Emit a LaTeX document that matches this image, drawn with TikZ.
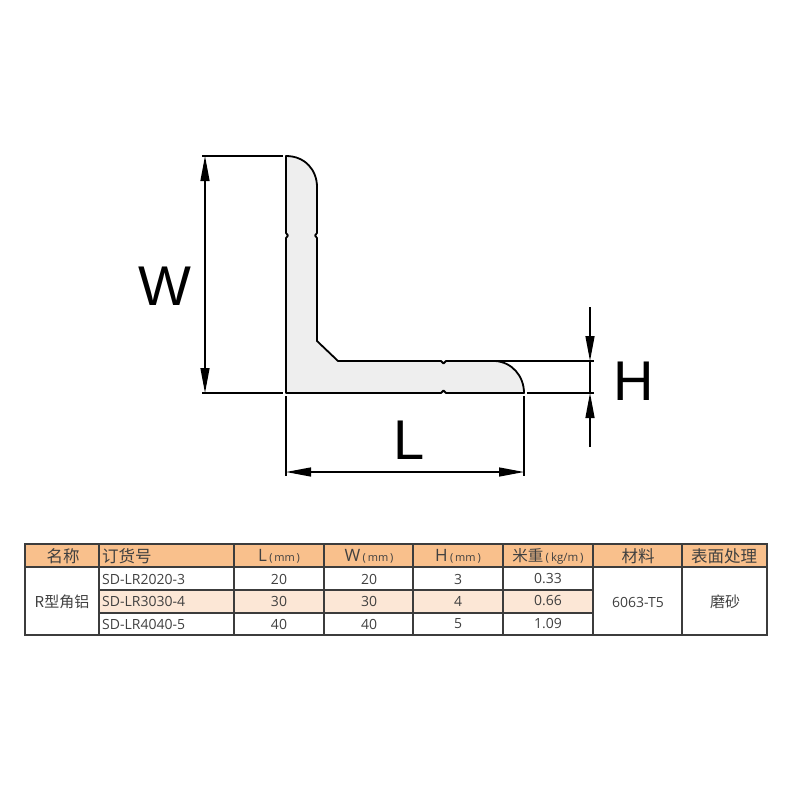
\documentclass[tikz,border=0pt]{standalone}
\usepackage{fontspec}
\setmainfont{Open Sans}
\newfontfamily\cjk{Noto Sans CJK SC}
\newfontfamily\bigsans{Liberation Sans}
\usetikzlibrary{arrows.meta}
\definecolor{perfil}{HTML}{EEEEEE}
\definecolor{naranja}{HTML}{F9C08C}
\definecolor{crema}{HTML}{FCE7D6}
\definecolor{linea}{HTML}{3C3C3C}
\definecolor{texto}{HTML}{404040}
\tikzset{
  cota/.style={black,line width=1.3pt},
  flecha/.style={-{Triangle[length=25pt,width=9pt]}},
  doble/.style={{Triangle[length=25pt,width=9pt]}-{Triangle[length=25pt,width=9pt]}},
  letra/.style={font=\bigsans\fontsize{56}{56}\selectfont,text=black,inner sep=0pt},
  celda/.style={font=\fontsize{14}{14}\selectfont,text=texto,inner sep=0pt,anchor=center},
  titulo/.style={font=\cjk\fontsize{16.5}{17}\selectfont,text=texto,inner sep=0pt,anchor=center},
}
\newcommand{\mmtxt}[1]{{\fontsize{17}{17}\selectfont #1}\,{\fontsize{11}{11}\selectfont(\,mm\,)}}
\begin{document}
\begin{tikzpicture}[x=1pt,y=-1pt]
    \useasboundingbox (0,0) rectangle (800,800);
    % ---- Puntos de referencia ----
    \coordinate (wtop) at (205,156);
    \coordinate (wbot) at (205,393);
    \coordinate (lleft) at (286,472);
    \coordinate (lright) at (524,472);
    \coordinate (hup) at (590,361);
    \coordinate (hlow) at (590,393);
    \coordinate (hstart) at (590,307);
    \coordinate (hend) at (590,447);

    % ---- Perfil ----
    \draw[draw=black,fill=perfil,line width=1.8pt,line join=round]
        (286,156) .. controls (305,156) and (317,170) .. (317,187)
        -- (317,233) -- (315,235.5) -- (317,238)
        -- (317,341) -- (338,361)
        -- (441,361) -- (443.5,363.5) -- (446,361)
        -- (495,361) .. controls (512,362) and (524,376) .. (524,393)
        -- (446,393) -- (443.5,390.5) -- (441,393)
        -- (286,393)
        -- (286,238) -- (288,235.5) -- (286,233) -- cycle;

    % ---- Lineas de referencia ----
    \draw[cota] (202,156) -- (283,156);
    \draw[cota] (202,393) -- (283,393);
    \draw[cota] (527,393) -- (594,393);
    \draw[cota] (495,361) -- (594,361);
    \draw[cota] (286,396) -- (286,476);
    \draw[cota] (524,396) -- (524,476);

    % ---- Cotas ----
    \draw[cota,doble] (wtop) -- (wbot);
    \draw[cota,doble] (lleft) -- (lright);
    \draw[cota,flecha] (hstart) -- (hup);
    \draw[cota] (hup) -- (hlow);
    \draw[cota,flecha] (hend) -- (hlow);

    % ---- Letras ----
    \node[letra] (letW) at (165,286) {W};
    \node[letra] (letL) at (409,440) {L};
    \node[letra] (letH) at (634,381) {H};

    % ---- Tabla ----
    \fill[naranja] (25,544) rectangle (767,567);
    \fill[crema] (99,590) rectangle (593,613);
    \draw[linea,line width=1.4pt] (25,544) rectangle (767,635);
    \draw[linea,line width=1.2pt] (25,567) -- (767,567);
    \draw[linea,line width=1.2pt] (99,590) -- (593,590);
    \draw[linea,line width=1.2pt] (99,613) -- (593,613);
    \foreach \xx in {99,234,324,413,503,593,682}
        \draw[linea,line width=1.2pt] (\xx,544) -- (\xx,635);

    % ---- Encabezado ----
    \node[titulo] (hname) at (63,556) {名称};
    \node[titulo,anchor=west] (hcode) at (102,556) {订货号};
    \node[celda] (hL) at (279,556) {\mmtxt{L}};
    \node[celda] (hW) at (369,556) {\mmtxt{W}};
    \node[celda] (hH) at (458,556) {\mmtxt{H}};
    \node[celda] (hkg) at (548,556) {{\cjk\fontsize{15.5}{16}\selectfont 米重}\,{\fontsize{11.5}{11}\selectfont(\,kg/m\,)}};
    \node[titulo] (hmat) at (638,556) {材料};
    \node[titulo] (hsup) at (724,556) {表面处理};

    % ---- Filas ----
    \foreach \fila/\yy/\cod/\ll/\hh/\kg in {a/579/SD-LR2020-3/20/3/0.33,b/601/SD-LR3030-4/30/4/0.66,c/624/SD-LR4040-5/40/5/1.09}{
        \node[celda,anchor=west] (cod\fila) at (102,\yy) {\cod};
        \node[celda] (l\fila) at (279,\yy) {\ll};
        \node[celda] (w\fila) at (369,\yy) {\ll};
        \node[celda] (h\fila) at (458,\yy) {\hh};
        \node[celda] (kg\fila) at (548,\yy) {\kg};
    }
    \node[celda,font=\cjk\fontsize{15}{15}\selectfont] (tipo) at (62,602) {R型角铝};
    \node[celda] (mat) at (638,602) {6063-T5};
    \node[celda,font=\cjk\fontsize{15}{15}\selectfont] (acab) at (725,602) {磨砂};
\end{tikzpicture}
\end{document}
